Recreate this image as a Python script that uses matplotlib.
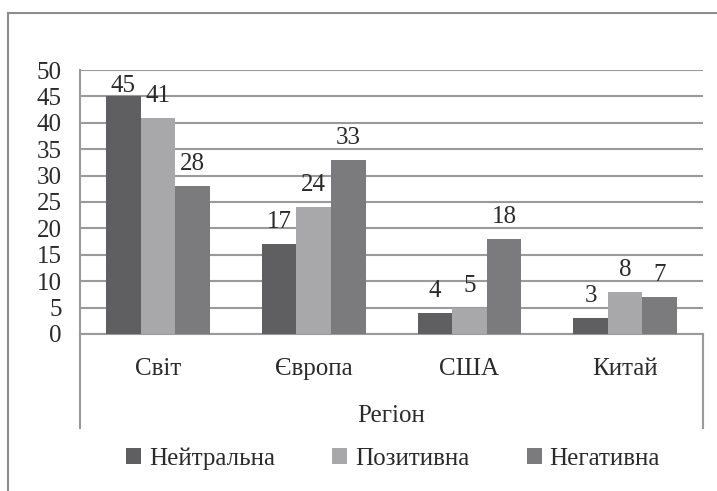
import numpy as np
import matplotlib.pyplot as plt
from matplotlib.lines import Line2D

plt.rcParams['font.family'] = ['Liberation Serif', 'DejaVu Serif']

# Data
regions = ["Світ", "Європа", "США", "Китай"]
neutral = [45, 17, 4, 3]
positive = [41, 24, 5, 8]
negative = [28, 33, 18, 7]
series_names = ["Нейтральна", "Позитивна", "Негативна"]
colors = ["#5f5f61", "#a8a8aa", "#7b7b7e"]
yticks = [0, 5, 10, 15, 20, 25, 30, 35, 40, 45, 50]

fs = 18
txt_c = "#2a2a2a"

fig = plt.figure(figsize=(7.17, 4.91), dpi=100)
ax = fig.add_axes([0.1116, 0.3198, 0.8689, 0.5376])

x = np.arange(len(regions))
w = 0.222
grid_c = "#9a9a9a"

for i, (vals, name, c) in enumerate(zip([neutral, positive, negative], series_names, colors)):
    bars = ax.bar(x + (i - 1) * w, vals, width=w, color=c, label=name, zorder=3)
    for b, v in zip(bars, vals):
        # labels sit a bit above the bar, kept inside the plot area
        ax.text(b.get_x() + b.get_width() / 2, min(v + 3, 45.8), str(v),
                ha="center", va="baseline", fontsize=fs, color=txt_c, zorder=4)

ax.set_xlim(-0.5, 3.5)
ax.set_ylim(0, 50)
ax.set_yticks(yticks)
ax.set_xticks(x)
ax.set_xticklabels(regions, fontsize=fs, color=txt_c)
ax.tick_params(axis='y', length=0, pad=13, labelsize=fs, labelcolor=txt_c)
ax.tick_params(axis='x', length=0, pad=17)
ax.yaxis.grid(True, color=grid_c, linewidth=1.5, zorder=0)
ax.set_axisbelow(True)
for s in ["top", "right"]:
    ax.spines[s].set_visible(False)
ax.spines["left"].set_color(grid_c)
ax.spines["left"].set_linewidth(1.5)
ax.spines["bottom"].set_color(grid_c)
ax.spines["bottom"].set_linewidth(1.5)

# extended category-axis edge lines
for xe in [0, 1]:
    ax.add_line(Line2D([xe, xe], [0, -0.356], transform=ax.transAxes,
                       color=grid_c, linewidth=1.5, clip_on=False))

ax.set_xlabel("Регіон", fontsize=fs, color=txt_c, labelpad=18)

leg = fig.legend(loc="center", bbox_to_anchor=(0.548, 0.066), ncol=3, frameon=False,
                 fontsize=fs, handlelength=0.6, handleheight=0.6, handletextpad=0.3,
                 columnspacing=2.3)
for t in leg.get_texts():
    t.set_color(txt_c)

# outer chart frame
fig.add_artist(Line2D([0.0112, 0.0112], [0, 0.9735], transform=fig.transFigure,
                      color="#8c8c8c", linewidth=1.5))
fig.add_artist(Line2D([0.0112, 1.0], [0.9735, 0.9735], transform=fig.transFigure,
                      color="#8c8c8c", linewidth=1.5))

fig.savefig("out.png", dpi=100)
